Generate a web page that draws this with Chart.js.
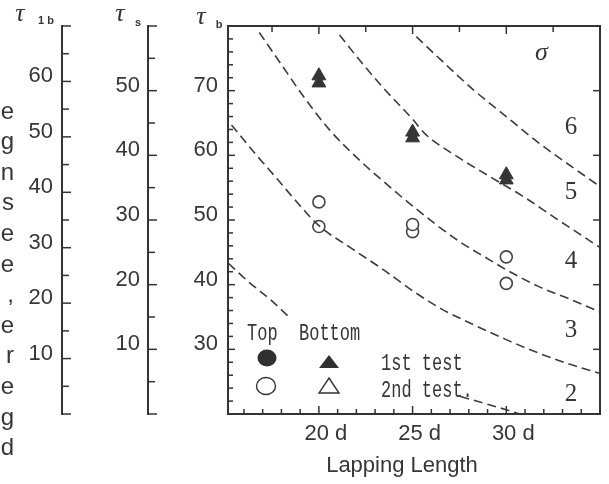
<!DOCTYPE html>
<html>
<head>
<meta charset="utf-8">
<script src="https://cdn.jsdelivr.net/npm/chart.js@4.4.1/dist/chart.umd.min.js"></script>
<style>
  html, body { margin: 0; padding: 0; background: #fff; }
  #wrap { width: 609px; height: 484px; }
</style>
</head>
<body>
<div id="wrap"><canvas id="c" width="609" height="484"></canvas></div>
<script>
// Lapping length, in bar diameters (d)
const lapLengths = [20, 25, 30];

// Bond strength tau_b of bottom bars, 1st test (two specimens per length)
const bottom1stA = [72.3, 63.6, 57.0];
const bottom1stB = [71.2, 62.7, 56.2];

// Bond strength tau_b of top bars, 2nd test (two specimens per length)
const top2ndA = [52.8, 49.3, 44.3];
const top2ndB = [49.0, 48.2, 40.2];

// Equal-sigma curves: lapping length (d) against tau_b
const sigma1X = [15.17, 16.22, 17.43, 18.48, 23.0, 27.55, 29.13, 30.87, 31.83];
const sigma1Y = [43.3, 40.5, 37.65, 34.8, null, 22.7, 21.4, 19.9, 19.1];
const sigma2X = [15.34, 16.56, 17.79, 19.18, 20.05, 21.80, 23.55, 25.03, 26.51, 28.26, 30.0, 31.74, 33.49, 34.97];
const sigma2Y = [64.7, 60.4, 56.3, 51.6, 49.0, 45.5, 42.1, 39.0, 36.3, 33.8, 31.5, 29.4, 27.6, 26.3];
const sigma3X = [16.82, 17.96, 19.18, 20.58, 22.15, 23.55, 25.03, 27.38, 29.13, 30.0, 31.74, 33.49, 34.97];
const sigma3Y = [79.0, 74.2, 69.1, 63.9, 59.3, 55.7, 52.1, 46.9, 43.8, 42.3, 39.7, 37.65, 35.8];
const sigma4X = [21.10, 22.32, 23.54, 25.03, 25.64, 27.38, 29.13, 30.87, 32.62, 34.97];
const sigma4Y = [78.6, 74.2, 70.1, 65.5, 63.4, 59.8, 56.7, 53.7, 50.3, 45.8];
const sigma5X = [25.20, 26.51, 28.26, 30.0, 31.74, 33.49, 34.89];
const sigma5Y = [78.35, 74.75, 70.1, 66.0, 61.9, 58.25, 55.4];

// Curve labels (sigma values) shown at the right edge
const sigmaLabels = ['2', '3', '4', '5', '6'];

// Axis tick labels
const xTickValues = [20, 25, 30];
const xTickLabels = ['20 d', '25 d', '30 d'];
const tau1bTicks = [10, 20, 30, 40, 50, 60];
const tauSTicks = [10, 20, 30, 40, 50];
const tauBTicks = [30, 40, 50, 60, 70];

// Word endings of the neighbouring text column
const sideText = ['e', 'g', 'n', 's', 'e', 'e', ',', 'e', 'r', 'e', 'g', 'd'];

const INK = '#363636';
const LINE = '#333333';
const SANS = '"Liberation Sans", Arial, sans-serif';
const SERIF = '"Liberation Serif", "DejaVu Serif", serif';
const MONO = '"Liberation Mono", "DejaVu Sans Mono", monospace';

const pairs = (xs, ys) => xs.map((x, i) => ({ x, y: ys[i] }));

function curve(label, xs, ys) {
  return {
    label, type: 'line', data: pairs(xs, ys), showLine: true, yAxisID: 'yb', xAxisID: 'x',
    borderColor: '#3c3c3c', borderWidth: 1.6, borderDash: [9, 5],
    pointRadius: 0, cubicInterpolationMode: 'monotone', spanGaps: false, fill: false
  };
}

function marks(label, ys, style, filled, radius) {
  return {
    label, type: 'scatter', data: pairs(lapLengths, ys), yAxisID: 'yb', xAxisID: 'x',
    pointStyle: style, pointRadius: radius, pointHoverRadius: radius,
    backgroundColor: filled ? '#353535' : '#ffffff',
    borderColor: filled ? '#353535' : '#444444',
    pointBorderWidth: filled ? 1 : 1.6
  };
}

// draw ticks, frame, legend and free text
const decor = {
  id: 'decor',
  beforeDraw(chart) {
    const ctx = chart.ctx;
    ctx.save();
    ctx.fillStyle = '#fff';
    ctx.fillRect(0, 0, chart.width, chart.height);
    ctx.restore();
  },
  afterDraw(chart) {
    const ctx = chart.ctx;
    const { left: L, right: R, top: T, bottom: B } = chart.chartArea;
    const sx = chart.scales.x, sb = chart.scales.yb, ss = chart.scales.ys, s1 = chart.scales.y1b;
    ctx.save();
    ctx.strokeStyle = LINE;
    ctx.fillStyle = INK;

    // main frame
    ctx.lineWidth = 2;
    ctx.strokeRect(L, T, R - L, B - T);

    ctx.lineWidth = 1.5;
    const seg = (x1, y1, x2, y2) => { ctx.beginPath(); ctx.moveTo(x1, y1); ctx.lineTo(x2, y2); ctx.stroke(); };

    // ticks of the two auxiliary left axes (pointing right)
    [[s1, 0, 70], [ss, 0, 60]].forEach(([s, lo, hi]) => {
      for (let v = lo; v <= hi + 1e-6; v += 5) {
        const y = s.getPixelForValue(v);
        const len = (v % 10 === 0) ? 9 : 7;
        seg(s.right, y, s.right + len, y);
      }
    });

    // main left axis ticks every 2
    for (let v = 22; v <= 78; v += 2) {
      const y = sb.getPixelForValue(v);
      seg(L, y, L + ((v % 10 === 0) ? 7 : 5), y);
    }
    // right border ticks
    for (let v = 30; v <= 70; v += 10) {
      const y = sb.getPixelForValue(v);
      seg(R, y, R - 7, y);
    }
    // bottom ticks every 1 d
    for (let v = 16; v <= 34; v += 1) {
      const x = sx.getPixelForValue(v);
      seg(x, B, x, B - ((v % 5 === 0) ? 8 : 5));
    }
    // top ticks every 2.5 d
    for (let v = 17.5; v <= 34; v += 2.5) {
      const x = sx.getPixelForValue(v);
      seg(x, T, x, T + ((v % 5 === 0) ? 8 : 6));
    }

    // axis titles
    const tau = (x, y, sub, subX, subY) => {
      ctx.font = 'italic 26px ' + SERIF;
      ctx.textAlign = 'center'; ctx.textBaseline = 'middle';
      ctx.fillText('\u03c4', x, y);
      ctx.font = 'bold 11px ' + SANS;
      ctx.fillText(sub, subX, subY);
    };
    tau(s1.right - 42, 14, '1 b', s1.right - 16, 21);
    tau(ss.right - 28, 14, 's', ss.right - 10, 23);
    tau(sb.right - 27, 17, 'b', sb.right - 9, 25);

    // sigma labels
    ctx.font = 'italic 26px ' + SERIF;
    ctx.textAlign = 'center'; ctx.textBaseline = 'middle';
    ctx.fillText('\u03c3', sx.getPixelForValue(31.88), sb.getPixelForValue(75.8));
    ctx.font = '25px ' + SERIF;
    const labelY = [22.97, 32.86, 43.52, 54.19, 64.39];
    sigmaLabels.forEach((t, i) => {
      ctx.fillText(t, sx.getPixelForValue(33.45), sb.getPixelForValue(labelY[i]));
    });

    // legend (typewriter lettering)
    const tall = (t, x, y) => {
      ctx.save();
      ctx.translate(x, y);
      ctx.scale(1, 1.45);
      ctx.font = '17px ' + MONO;
      ctx.textAlign = 'left'; ctx.textBaseline = 'middle';
      ctx.fillText(t, 0, 0);
      ctx.restore();
    };
    tall('Top', L + 19, B - 81);
    tall('Bottom', L + 71, B - 81);
    tall('1st test', L + 153, B - 51);
    tall('2nd test.', L + 153, B - 24);

    const cx1 = L + 39, cx2 = L + 101;
    ctx.fillStyle = '#303030';
    ctx.beginPath(); ctx.ellipse(cx1, B - 56, 9.5, 8.5, 0, 0, Math.PI * 2); ctx.fill();
    ctx.beginPath(); ctx.moveTo(cx2, B - 59); ctx.lineTo(cx2 + 10, B - 46); ctx.lineTo(cx2 - 10, B - 46); ctx.closePath(); ctx.fill();
    ctx.lineWidth = 1.4;
    ctx.beginPath(); ctx.ellipse(cx1 - 1, B - 28, 9.5, 8.5, 0, 0, Math.PI * 2); ctx.stroke();
    ctx.beginPath(); ctx.moveTo(cx2, B - 36); ctx.lineTo(cx2 + 10, B - 21); ctx.lineTo(cx2 - 10, B - 21); ctx.closePath(); ctx.stroke();

    // x-axis title
    ctx.fillStyle = INK;
    ctx.font = '22px ' + SANS;
    ctx.textAlign = 'center'; ctx.textBaseline = 'middle';
    ctx.fillText('Lapping Length', 402, 466);

    // neighbouring text column
    ctx.font = '24px ' + SANS;
    ctx.textAlign = 'right';
    sideText.forEach((t, i) => ctx.fillText(t, 14, 112 + i * 30.6));

    ctx.restore();
  }
};

const tickFont = { family: SANS, size: 22 };

function leftAxis(min, max, weight, width, padding, values) {
  return {
    type: 'linear', position: 'left', weight, min, max,
    grid: { display: false, drawTicks: false },
    border: { display: true, color: LINE, width: 2 },
    afterBuildTicks: s => { s.ticks = values.map(v => ({ value: v })); },
    afterFit: s => { s.width = width; },
    ticks: { font: tickFont, color: INK, padding, labelOffset: -5, autoSkip: false }
  };
}

new Chart(document.getElementById('c'), {
  type: 'scatter',
  data: {
    datasets: [
      curve('\u03c3 = 1', sigma1X, sigma1Y),
      curve('\u03c3 = 2', sigma2X, sigma2Y),
      curve('\u03c3 = 3', sigma3X, sigma3Y),
      curve('\u03c3 = 4', sigma4X, sigma4Y),
      curve('\u03c3 = 5', sigma5X, sigma5Y),
      marks('Bottom, 1st test (a)', bottom1stA, 'triangle', true, 8),
      marks('Bottom, 1st test (b)', bottom1stB, 'triangle', true, 8),
      marks('Top, 2nd test (a)', top2ndA, 'circle', false, 6),
      marks('Top, 2nd test (b)', top2ndB, 'circle', false, 6)
    ]
  },
  options: {
    responsive: false,
    animation: false,
    layout: { padding: { top: 26, right: 2, left: 0, bottom: 0 } },
    plugins: { legend: { display: false }, tooltip: { enabled: false } },
    scales: {
      x: {
        type: 'linear', position: 'bottom', min: 15.15, max: 35,
        grid: { display: false, drawTicks: false },
        border: { display: false },
        afterBuildTicks: s => { s.ticks = xTickValues.map(v => ({ value: v })); },
        afterFit: s => { s.height = 70; },
        ticks: {
          font: tickFont, color: INK, padding: 7, labelOffset: 7, maxRotation: 0, autoSkip: false,
          callback: v => xTickLabels[xTickValues.indexOf(v)]
        }
      },
      yb: Object.assign(leftAxis(20, 80, 0, 80, 10, tauBTicks), { border: { display: false } }),
      ys: leftAxis(0, 60, 1, 86, 8, tauSTicks),
      y1b: leftAxis(0, 70, 2, 62, 9, tau1bTicks)
    }
  },
  plugins: [decor]
});
</script>
</body>
</html>
